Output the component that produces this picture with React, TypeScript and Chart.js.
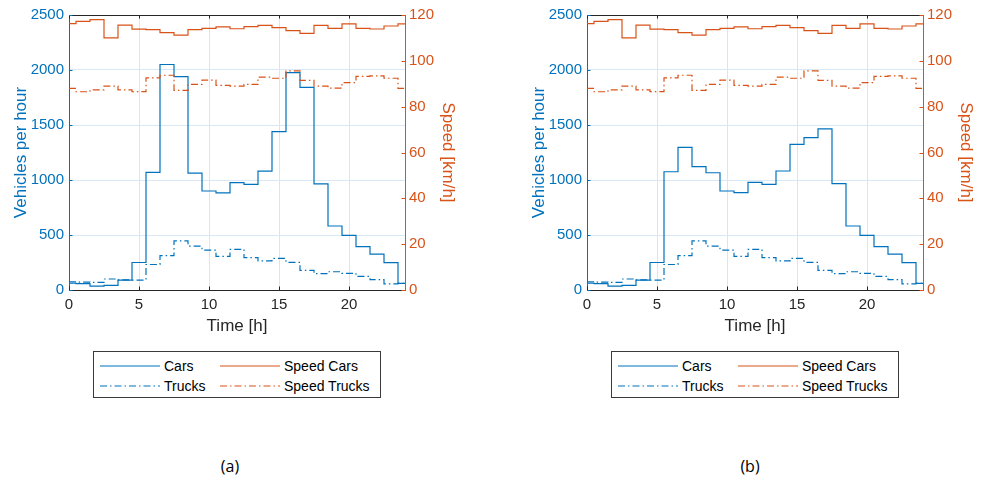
import React, { useEffect, useRef } from 'react';
import { Chart, registerables } from 'chart.js';
Chart.register(...registerables);

// ---- data (hourly values) ----
const hours = [0, 1, 2, 3, 4, 5, 6, 7, 8, 9, 10, 11, 12, 13, 14, 15, 16, 17, 18, 19, 20, 21, 22, 23, 24];
const carsA = [62, 58, 35, 42, 90, 250, 1070, 2050, 1940, 1062, 900, 883, 976, 960, 1080, 1440, 1976, 1842, 964, 582, 497, 394, 327, 248, 60];
const carsB = [62, 58, 35, 42, 90, 250, 1075, 1297, 1121, 1066, 900, 885, 979, 961, 1082, 1324, 1385, 1464, 967, 582, 497, 394, 327, 248, 60];
const trucks = [75, 72, 70, 100, 92, 90, 232, 312, 446, 398, 363, 305, 370, 294, 264, 288, 252, 178, 148, 166, 152, 124, 94, 55, 60];
const speedCars = [116.2, 117.2, 118.0, 110.0, 115.6, 113.8, 113.6, 112.3, 111.2, 113.6, 114.2, 114.8, 114.0, 114.9, 115.5, 114.5, 113.2, 112.0, 115.5, 114.2, 116.1, 114.2, 113.9, 115.2, 116.1];
const speedTrucks = [88.0, 86.5, 87.3, 89.0, 87.3, 86.6, 92.6, 93.7, 87.1, 89.7, 91.6, 89.3, 89.0, 89.7, 92.9, 92.4, 95.6, 91.5, 89.0, 88.1, 90.5, 93.2, 93.4, 92.4, 88.0];
const xTicks = [0, 5, 10, 15, 20];
const legendLabels = ['Cars', 'Speed Cars', 'Trucks', 'Speed Trucks'];
const captions = ['(a)', '(b)'];

// ---- styles ----
const BLUE = '#0072BD';
const ORANGE = '#D95319';
const DARK = '#262626';
const FONT = '"Liberation Sans", Arial, Helvetica, sans-serif';
const DASHDOT = [7, 3, 1.5, 3];
const LW = 1.2;

const stairs = (vals: number[]) => {
  const pts = vals.map((v, i) => ({ x: Math.max(0, hours[i] - 0.5), y: v }));
  pts.push({ x: hours[hours.length - 1], y: vals[vals.length - 1] });
  return pts;
};

const plain = (v: any) => String(v);

const tickMarks = {
  id: 'tickMarks',
  afterDraw(chart: any) {
    const { ctx, chartArea: a, scales } = chart;
    const L = 3.5;
    const r = (v: number) => Math.round(v) + 0.5;
    ctx.save();
    ctx.lineWidth = 1;
    ctx.strokeStyle = DARK;
    ctx.beginPath();
    ctx.moveTo(a.left, r(a.top));
    ctx.lineTo(a.right, r(a.top));
    ctx.stroke();
    ctx.beginPath();
    xTicks.forEach((t) => {
      const px = r(scales.x.getPixelForValue(t));
      ctx.moveTo(px, a.bottom);
      ctx.lineTo(px, a.bottom - L);
      ctx.moveTo(px, a.top);
      ctx.lineTo(px, a.top + L);
    });
    ctx.stroke();
    ctx.strokeStyle = BLUE;
    ctx.beginPath();
    scales.y.ticks.forEach((t: any) => {
      const py = r(scales.y.getPixelForValue(t.value));
      ctx.moveTo(a.left, py);
      ctx.lineTo(a.left + L, py);
    });
    ctx.stroke();
    ctx.strokeStyle = ORANGE;
    ctx.beginPath();
    scales.y1.ticks.forEach((t: any) => {
      const py = r(scales.y1.getPixelForValue(t.value));
      ctx.moveTo(a.right, py);
      ctx.lineTo(a.right - L, py);
    });
    ctx.stroke();
    ctx.restore();
  },
};

function Panel({ cars, left }: { cars: number[]; left: number }) {
  const ref = useRef<HTMLCanvasElement>(null);
  useEffect(() => {
    const line = (data: number[], color: string, axis: string, dash: number[]) => ({
      data: stairs(data),
      yAxisID: axis,
      borderColor: color,
      backgroundColor: color,
      borderWidth: LW,
      borderDash: dash,
      stepped: true,
      pointRadius: 0,
      fill: false,
    });
    const chart = new Chart(ref.current as HTMLCanvasElement, {
      type: 'line',
      data: {
        datasets: [
          { label: legendLabels[1], ...line(speedCars, ORANGE, 'y1', []) },
          { label: legendLabels[3], ...line(speedTrucks, ORANGE, 'y1', DASHDOT) },
          { label: legendLabels[0], ...line(cars, BLUE, 'y', []) },
          { label: legendLabels[2], ...line(trucks, BLUE, 'y', DASHDOT) },
        ],
      } as any,
      options: {
        animation: false,
        responsive: false,
        devicePixelRatio: 1,
        layout: { padding: { top: 15, left: 0, right: 0, bottom: 0 } },
        plugins: { legend: { display: false }, tooltip: { enabled: false } },
        scales: {
          x: {
            type: 'linear',
            position: 'bottom',
            min: 0,
            max: 24,
            afterBuildTicks: (s: any) => {
              s.ticks = xTicks.map((v) => ({ value: v }));
            },
            ticks: { color: DARK, font: { family: FONT, size: 15 }, padding: 6, maxRotation: 0, callback: plain },
            grid: { color: '#e3e3e3', drawTicks: false, lineWidth: 1 },
            border: { color: DARK, width: 1 },
            title: { display: true, text: 'Time [h]', color: DARK, font: { family: FONT, size: 17 }, padding: { top: 0, bottom: 3 } },
            afterFit: (s: any) => {
              s.height = 50;
            },
          },
          y: {
            position: 'left',
            min: 0,
            max: 2500,
            ticks: { stepSize: 500, color: BLUE, font: { family: FONT, size: 15 }, padding: 5, callback: plain },
            grid: { color: '#d9e8f4', drawTicks: false, lineWidth: 1 },
            border: { color: BLUE, width: 1 },
            title: { display: true, text: 'Vehicles per hour', color: BLUE, font: { family: FONT, size: 17 }, padding: { top: 11, bottom: 0 } },
            afterFit: (s: any) => {
              s.width = 69;
            },
          },
          y1: {
            position: 'right',
            min: 0,
            max: 120,
            ticks: { stepSize: 20, color: ORANGE, font: { family: FONT, size: 15 }, padding: 4, callback: plain },
            grid: { drawOnChartArea: false, drawTicks: false },
            border: { color: ORANGE, width: 1 },
            title: { display: true, text: 'Speed [km/h]', color: ORANGE, font: { family: FONT, size: 17 }, padding: { top: 6, bottom: 0 } },
            afterFit: (s: any) => {
              s.width = 59;
            },
          },
        },
      } as any,
      plugins: [tickMarks],
    });
    return () => chart.destroy();
  }, [cars]);
  return (
    <canvas
      ref={ref}
      width={464}
      height={340}
      style={{ position: 'absolute', left, top: 0, width: 464, height: 340, display: 'block' }}
    />
  );
}

function LegendBox({ left }: { left: number }) {
  const item = (x: number, y: number, color: string, dash: boolean, label: string) => (
    <React.Fragment key={label}>
      <svg style={{ position: 'absolute', left: x, top: y - 2 }} width={60} height={4}>
        <line x1={0} y1={2} x2={60} y2={2} stroke={color} strokeWidth={LW} strokeDasharray={dash ? DASHDOT.join(' ') : undefined} />
      </svg>
      <div style={{ position: 'absolute', left: x + 64, top: y - 9, fontFamily: FONT, fontSize: 14, lineHeight: '18px', color: '#000', whiteSpace: 'nowrap' }}>
        {label}
      </div>
    </React.Fragment>
  );
  return (
    <div
      style={{
        position: 'absolute',
        left,
        top: 351,
        width: 288,
        height: 47,
        boxSizing: 'border-box',
        border: '1px solid #3a3a3a',
        background: '#fff',
      }}
    >
      {item(6, 14, BLUE, false, legendLabels[0])}
      {item(126, 14, ORANGE, false, legendLabels[1])}
      {item(6, 34, BLUE, true, legendLabels[2])}
      {item(126, 34, ORANGE, true, legendLabels[3])}
    </div>
  );
}

export default function App() {
  return (
    <div style={{ position: 'fixed', left: 0, top: 0, width: 982, height: 481, background: '#fff', overflow: 'hidden' }}>
      <Panel cars={carsA} left={0} />
      <Panel cars={carsB} left={518} />
      <LegendBox left={93} />
      <LegendBox left={611} />
      {captions.map((c, i) => (
        <div
          key={c}
          style={{
            position: 'absolute',
            left: i === 0 ? 200 : 720,
            width: 60,
            top: 455,
            textAlign: 'center',
            fontFamily: '"Open Sans", "Noto Sans", sans-serif',
            fontSize: 16,
            lineHeight: '22px',
            color: '#000',
          }}
        >
          {c}
        </div>
      ))}
    </div>
  );
}
